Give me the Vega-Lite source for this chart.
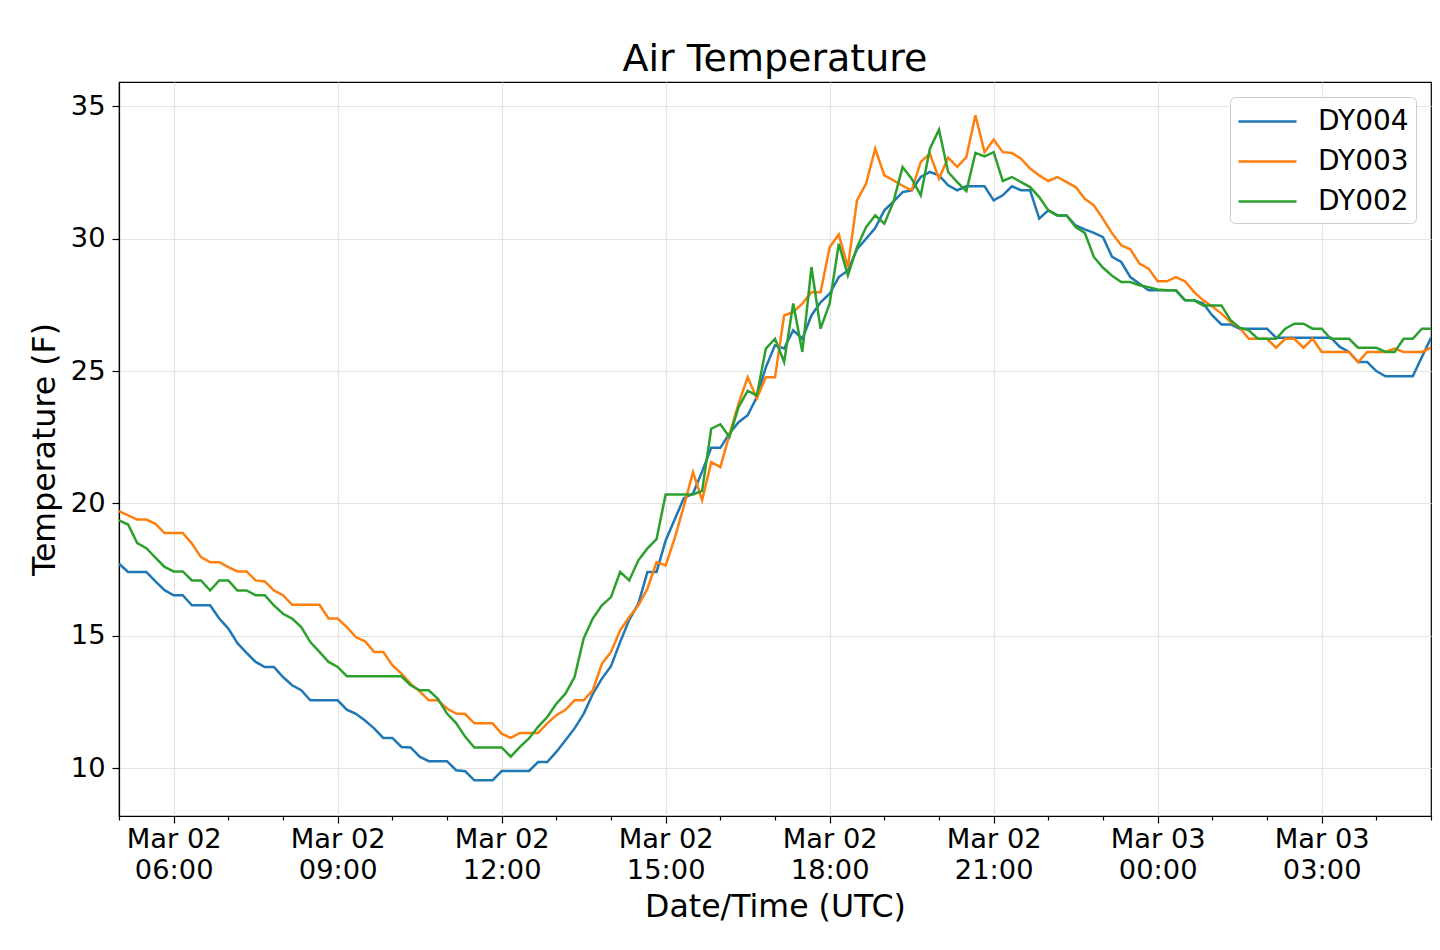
{
  "$schema": "https://vega.github.io/schema/vega-lite/v6.json",
  "width": 1312,
  "height": 734,
  "autosize": "none",
  "padding": {"left": 119, "top": 82, "right": 9, "bottom": 134},
  "background": "white",
  "title": {
    "text": "Air Temperature",
    "fontSize": 38,
    "font": "DejaVu Sans",
    "fontWeight": "normal",
    "color": "black",
    "anchor": "middle",
    "offset": 3
  },
  "data": {
    "values": [
      {"t": "2019-03-02T05:00", "DY004": 17.72, "DY003": 19.71, "DY002": 19.36},
      {"t": "2019-03-02T05:10", "DY004": 17.41, "DY003": 19.55, "DY002": 19.2},
      {"t": "2019-03-02T05:20", "DY004": 17.41, "DY003": 19.39, "DY002": 18.5},
      {"t": "2019-03-02T05:30", "DY004": 17.41, "DY003": 19.39, "DY002": 18.31},
      {"t": "2019-03-02T05:40", "DY004": 17.05, "DY003": 19.23, "DY002": 17.95},
      {"t": "2019-03-02T05:50", "DY004": 16.72, "DY003": 18.88, "DY002": 17.6},
      {"t": "2019-03-02T06:00", "DY004": 16.53, "DY003": 18.88, "DY002": 17.43},
      {"t": "2019-03-02T06:10", "DY004": 16.53, "DY003": 18.88, "DY002": 17.43},
      {"t": "2019-03-02T06:20", "DY004": 16.15, "DY003": 18.48, "DY002": 17.09},
      {"t": "2019-03-02T06:30", "DY004": 16.15, "DY003": 17.97, "DY002": 17.09},
      {"t": "2019-03-02T06:40", "DY004": 16.15, "DY003": 17.78, "DY002": 16.71},
      {"t": "2019-03-02T06:50", "DY004": 15.65, "DY003": 17.78, "DY002": 17.09},
      {"t": "2019-03-02T07:00", "DY004": 15.27, "DY003": 17.59, "DY002": 17.09},
      {"t": "2019-03-02T07:10", "DY004": 14.72, "DY003": 17.43, "DY002": 16.71},
      {"t": "2019-03-02T07:20", "DY004": 14.35, "DY003": 17.43, "DY002": 16.71},
      {"t": "2019-03-02T07:30", "DY004": 14.01, "DY003": 17.09, "DY002": 16.53},
      {"t": "2019-03-02T07:40", "DY004": 13.82, "DY003": 17.05, "DY002": 16.53},
      {"t": "2019-03-02T07:50", "DY004": 13.82, "DY003": 16.71, "DY002": 16.15},
      {"t": "2019-03-02T08:00", "DY004": 13.44, "DY003": 16.53, "DY002": 15.83},
      {"t": "2019-03-02T08:10", "DY004": 13.13, "DY003": 16.17, "DY002": 15.65},
      {"t": "2019-03-02T08:20", "DY004": 12.94, "DY003": 16.17, "DY002": 15.33},
      {"t": "2019-03-02T08:30", "DY004": 12.56, "DY003": 16.17, "DY002": 14.76},
      {"t": "2019-03-02T08:40", "DY004": 12.56, "DY003": 16.17, "DY002": 14.39},
      {"t": "2019-03-02T08:50", "DY004": 12.56, "DY003": 15.65, "DY002": 14.01},
      {"t": "2019-03-02T09:00", "DY004": 12.56, "DY003": 15.65, "DY002": 13.82},
      {"t": "2019-03-02T09:10", "DY004": 12.21, "DY003": 15.33, "DY002": 13.47},
      {"t": "2019-03-02T09:20", "DY004": 12.05, "DY003": 14.95, "DY002": 13.47},
      {"t": "2019-03-02T09:30", "DY004": 11.8, "DY003": 14.79, "DY002": 13.47},
      {"t": "2019-03-02T09:40", "DY004": 11.5, "DY003": 14.39, "DY002": 13.47},
      {"t": "2019-03-02T09:50", "DY004": 11.14, "DY003": 14.39, "DY002": 13.47},
      {"t": "2019-03-02T10:00", "DY004": 11.14, "DY003": 13.89, "DY002": 13.47},
      {"t": "2019-03-02T10:10", "DY004": 10.8, "DY003": 13.57, "DY002": 13.47},
      {"t": "2019-03-02T10:20", "DY004": 10.78, "DY003": 13.19, "DY002": 13.13},
      {"t": "2019-03-02T10:30", "DY004": 10.43, "DY003": 12.9, "DY002": 12.94},
      {"t": "2019-03-02T10:40", "DY004": 10.26, "DY003": 12.56, "DY002": 12.94},
      {"t": "2019-03-02T10:50", "DY004": 10.26, "DY003": 12.56, "DY002": 12.62},
      {"t": "2019-03-02T11:00", "DY004": 10.26, "DY003": 12.25, "DY002": 12.06},
      {"t": "2019-03-02T11:10", "DY004": 9.92, "DY003": 12.06, "DY002": 11.7},
      {"t": "2019-03-02T11:20", "DY004": 9.88, "DY003": 12.04, "DY002": 11.18},
      {"t": "2019-03-02T11:30", "DY004": 9.54, "DY003": 11.69, "DY002": 10.78},
      {"t": "2019-03-02T11:40", "DY004": 9.54, "DY003": 11.69, "DY002": 10.78},
      {"t": "2019-03-02T11:50", "DY004": 9.54, "DY003": 11.69, "DY002": 10.78},
      {"t": "2019-03-02T12:00", "DY004": 9.89, "DY003": 11.3, "DY002": 10.78},
      {"t": "2019-03-02T12:10", "DY004": 9.89, "DY003": 11.14, "DY002": 10.43},
      {"t": "2019-03-02T12:20", "DY004": 9.89, "DY003": 11.33, "DY002": 10.8},
      {"t": "2019-03-02T12:30", "DY004": 9.89, "DY003": 11.33, "DY002": 11.12},
      {"t": "2019-03-02T12:40", "DY004": 10.23, "DY003": 11.33, "DY002": 11.56},
      {"t": "2019-03-02T12:50", "DY004": 10.23, "DY003": 11.69, "DY002": 11.93},
      {"t": "2019-03-02T13:00", "DY004": 10.61, "DY003": 12.0, "DY002": 12.43},
      {"t": "2019-03-02T13:10", "DY004": 11.05, "DY003": 12.2, "DY002": 12.81},
      {"t": "2019-03-02T13:20", "DY004": 11.5, "DY003": 12.56, "DY002": 13.44},
      {"t": "2019-03-02T13:30", "DY004": 12.05, "DY003": 12.56, "DY002": 14.9},
      {"t": "2019-03-02T13:40", "DY004": 12.8, "DY003": 12.94, "DY002": 15.65},
      {"t": "2019-03-02T13:50", "DY004": 13.38, "DY003": 13.94, "DY002": 16.15},
      {"t": "2019-03-02T14:00", "DY004": 13.85, "DY003": 14.39, "DY002": 16.46},
      {"t": "2019-03-02T14:10", "DY004": 14.76, "DY003": 15.2, "DY002": 17.41},
      {"t": "2019-03-02T14:20", "DY004": 15.6, "DY003": 15.71, "DY002": 17.09},
      {"t": "2019-03-02T14:30", "DY004": 16.21, "DY003": 16.15, "DY002": 17.85},
      {"t": "2019-03-02T14:40", "DY004": 17.41, "DY003": 16.78, "DY002": 18.3},
      {"t": "2019-03-02T14:50", "DY004": 17.41, "DY003": 17.78, "DY002": 18.65},
      {"t": "2019-03-02T15:00", "DY004": 18.6, "DY003": 17.66, "DY002": 20.34},
      {"t": "2019-03-02T15:10", "DY004": 19.4, "DY003": 18.7, "DY002": 20.34},
      {"t": "2019-03-02T15:20", "DY004": 20.2, "DY003": 19.9, "DY002": 20.34},
      {"t": "2019-03-02T15:30", "DY004": 20.37, "DY003": 21.18, "DY002": 20.34},
      {"t": "2019-03-02T15:40", "DY004": 21.2, "DY003": 20.12, "DY002": 20.47},
      {"t": "2019-03-02T15:50", "DY004": 22.1, "DY003": 21.56, "DY002": 22.82},
      {"t": "2019-03-02T16:00", "DY004": 22.1, "DY003": 21.37, "DY002": 22.99},
      {"t": "2019-03-02T16:10", "DY004": 22.64, "DY003": 22.6, "DY002": 22.51},
      {"t": "2019-03-02T16:20", "DY004": 23.07, "DY003": 23.77, "DY002": 23.64},
      {"t": "2019-03-02T16:30", "DY004": 23.33, "DY003": 24.77, "DY002": 24.25},
      {"t": "2019-03-02T16:40", "DY004": 24.02, "DY003": 23.96, "DY002": 24.08},
      {"t": "2019-03-02T16:50", "DY004": 25.15, "DY003": 24.77, "DY002": 25.85},
      {"t": "2019-03-02T17:00", "DY004": 25.97, "DY003": 24.77, "DY002": 26.22},
      {"t": "2019-03-02T17:10", "DY004": 25.85, "DY003": 27.1, "DY002": 25.34},
      {"t": "2019-03-02T17:20", "DY004": 26.54, "DY003": 27.23, "DY002": 27.55},
      {"t": "2019-03-02T17:30", "DY004": 26.22, "DY003": 27.55, "DY002": 25.72},
      {"t": "2019-03-02T17:40", "DY004": 27.1, "DY003": 27.98, "DY002": 28.93},
      {"t": "2019-03-02T17:50", "DY004": 27.6, "DY003": 27.98, "DY002": 26.6},
      {"t": "2019-03-02T18:00", "DY004": 27.92, "DY003": 29.68, "DY002": 27.55},
      {"t": "2019-03-02T18:10", "DY004": 28.55, "DY003": 30.16, "DY002": 29.81},
      {"t": "2019-03-02T18:20", "DY004": 28.8, "DY003": 28.93, "DY002": 28.61},
      {"t": "2019-03-02T18:30", "DY004": 29.6, "DY003": 31.45, "DY002": 29.68},
      {"t": "2019-03-02T18:40", "DY004": 30.0, "DY003": 32.08, "DY002": 30.44},
      {"t": "2019-03-02T18:50", "DY004": 30.4, "DY003": 33.4, "DY002": 30.88},
      {"t": "2019-03-02T19:00", "DY004": 31.07, "DY003": 32.39, "DY002": 30.57},
      {"t": "2019-03-02T19:10", "DY004": 31.4, "DY003": 32.2, "DY002": 31.39},
      {"t": "2019-03-02T19:20", "DY004": 31.76, "DY003": 32.0, "DY002": 32.71},
      {"t": "2019-03-02T19:30", "DY004": 31.83, "DY003": 31.83, "DY002": 32.27},
      {"t": "2019-03-02T19:40", "DY004": 32.33, "DY003": 32.9, "DY002": 31.64},
      {"t": "2019-03-02T19:50", "DY004": 32.52, "DY003": 33.21, "DY002": 33.4},
      {"t": "2019-03-02T20:00", "DY004": 32.39, "DY003": 32.27, "DY002": 34.12},
      {"t": "2019-03-02T20:10", "DY004": 32.02, "DY003": 33.06, "DY002": 32.52},
      {"t": "2019-03-02T20:20", "DY004": 31.83, "DY003": 32.71, "DY002": 32.14},
      {"t": "2019-03-02T20:30", "DY004": 31.98, "DY003": 33.08, "DY002": 31.8},
      {"t": "2019-03-02T20:40", "DY004": 31.98, "DY003": 34.66, "DY002": 33.24},
      {"t": "2019-03-02T20:50", "DY004": 31.98, "DY003": 33.27, "DY002": 33.11},
      {"t": "2019-03-02T21:00", "DY004": 31.45, "DY003": 33.74, "DY002": 33.27},
      {"t": "2019-03-02T21:10", "DY004": 31.64, "DY003": 33.27, "DY002": 32.18},
      {"t": "2019-03-02T21:20", "DY004": 31.98, "DY003": 33.24, "DY002": 32.33},
      {"t": "2019-03-02T21:30", "DY004": 31.83, "DY003": 33.02, "DY002": 32.14},
      {"t": "2019-03-02T21:40", "DY004": 31.83, "DY003": 32.65, "DY002": 31.95},
      {"t": "2019-03-02T21:50", "DY004": 30.76, "DY003": 32.39, "DY002": 31.57},
      {"t": "2019-03-02T22:00", "DY004": 31.07, "DY003": 32.18, "DY002": 31.07},
      {"t": "2019-03-02T22:10", "DY004": 30.88, "DY003": 32.33, "DY002": 30.88},
      {"t": "2019-03-02T22:20", "DY004": 30.88, "DY003": 32.14, "DY002": 30.88},
      {"t": "2019-03-02T22:30", "DY004": 30.5, "DY003": 31.95, "DY002": 30.44},
      {"t": "2019-03-02T22:40", "DY004": 30.35, "DY003": 31.51, "DY002": 30.22},
      {"t": "2019-03-02T22:50", "DY004": 30.22, "DY003": 31.26, "DY002": 29.31},
      {"t": "2019-03-02T23:00", "DY004": 30.06, "DY003": 30.75, "DY002": 28.9},
      {"t": "2019-03-02T23:10", "DY004": 29.31, "DY003": 30.2, "DY002": 28.6},
      {"t": "2019-03-02T23:20", "DY004": 29.12, "DY003": 29.75, "DY002": 28.36},
      {"t": "2019-03-02T23:30", "DY004": 28.55, "DY003": 29.6, "DY002": 28.36},
      {"t": "2019-03-02T23:40", "DY004": 28.3, "DY003": 29.06, "DY002": 28.24},
      {"t": "2019-03-02T23:50", "DY004": 28.05, "DY003": 28.87, "DY002": 28.17},
      {"t": "2019-03-03T00:00", "DY004": 28.05, "DY003": 28.39, "DY002": 28.08},
      {"t": "2019-03-03T00:10", "DY004": 28.05, "DY003": 28.39, "DY002": 28.05},
      {"t": "2019-03-03T00:20", "DY004": 28.05, "DY003": 28.55, "DY002": 28.05},
      {"t": "2019-03-03T00:30", "DY004": 27.67, "DY003": 28.39, "DY002": 27.67},
      {"t": "2019-03-03T00:40", "DY004": 27.67, "DY003": 27.98, "DY002": 27.67},
      {"t": "2019-03-03T00:50", "DY004": 27.55, "DY003": 27.67, "DY002": 27.48},
      {"t": "2019-03-03T01:00", "DY004": 27.1, "DY003": 27.44, "DY002": 27.48},
      {"t": "2019-03-03T01:10", "DY004": 26.76, "DY003": 27.17, "DY002": 27.48},
      {"t": "2019-03-03T01:20", "DY004": 26.76, "DY003": 26.85, "DY002": 26.92},
      {"t": "2019-03-03T01:30", "DY004": 26.6, "DY003": 26.64, "DY002": 26.64},
      {"t": "2019-03-03T01:40", "DY004": 26.6, "DY003": 26.22, "DY002": 26.54},
      {"t": "2019-03-03T01:50", "DY004": 26.6, "DY003": 26.22, "DY002": 26.22},
      {"t": "2019-03-03T02:00", "DY004": 26.6, "DY003": 26.22, "DY002": 26.22},
      {"t": "2019-03-03T02:10", "DY004": 26.26, "DY003": 25.88, "DY002": 26.22},
      {"t": "2019-03-03T02:20", "DY004": 26.26, "DY003": 26.22, "DY002": 26.6},
      {"t": "2019-03-03T02:30", "DY004": 26.26, "DY003": 26.22, "DY002": 26.79},
      {"t": "2019-03-03T02:40", "DY004": 26.26, "DY003": 25.88, "DY002": 26.79},
      {"t": "2019-03-03T02:50", "DY004": 26.26, "DY003": 26.22, "DY002": 26.6},
      {"t": "2019-03-03T03:00", "DY004": 26.26, "DY003": 25.72, "DY002": 26.6},
      {"t": "2019-03-03T03:10", "DY004": 26.26, "DY003": 25.72, "DY002": 26.22},
      {"t": "2019-03-03T03:20", "DY004": 25.91, "DY003": 25.72, "DY002": 26.22},
      {"t": "2019-03-03T03:30", "DY004": 25.72, "DY003": 25.72, "DY002": 26.22},
      {"t": "2019-03-03T03:40", "DY004": 25.34, "DY003": 25.34, "DY002": 25.88},
      {"t": "2019-03-03T03:50", "DY004": 25.34, "DY003": 25.72, "DY002": 25.88},
      {"t": "2019-03-03T04:00", "DY004": 25.0, "DY003": 25.72, "DY002": 25.88},
      {"t": "2019-03-03T04:10", "DY004": 24.8, "DY003": 25.72, "DY002": 25.72},
      {"t": "2019-03-03T04:20", "DY004": 24.8, "DY003": 25.85, "DY002": 25.72},
      {"t": "2019-03-03T04:30", "DY004": 24.8, "DY003": 25.72, "DY002": 26.22},
      {"t": "2019-03-03T04:40", "DY004": 24.8, "DY003": 25.72, "DY002": 26.22},
      {"t": "2019-03-03T04:50", "DY004": 25.53, "DY003": 25.72, "DY002": 26.6},
      {"t": "2019-03-03T05:00", "DY004": 26.26, "DY003": 25.88, "DY002": 26.6}
    ]
  },
  "transform": [
    {"fold": ["DY004", "DY003", "DY002"], "as": ["station", "temp"]}
  ],
  "mark": {"type": "line", "strokeWidth": 2.5, "clip": true},
  "encoding": {
    "x": {
      "field": "t",
      "type": "temporal",
      "title": "Date/Time (UTC)",
      "scale": {
        "domain": [
          {"year": 2019, "month": 3, "date": 2, "hours": 5},
          {"year": 2019, "month": 3, "date": 3, "hours": 5}
        ],
        "nice": false
      },
      "axis": {
        "tickCount": 24,
        "labelExpr": "hours(datum.value) % 3 == 0 ? [timeFormat(datum.value, '%b %d'), timeFormat(datum.value, '%H:%M')] : ''",
        "labelOverlap": false,
        "labelFlush": false,
        "labelPadding": 2,
        "labelLineHeight": 31,
        "tickSize": 7,
        "tickDash": {"condition": {"test": "hours(datum.value) % 3 == 0", "value": [7, 0]}, "value": [4, 20]},
        "gridOpacity": {"condition": {"test": "hours(datum.value) % 3 == 0", "value": 1}, "value": 0},
        "titlePadding": 8
      }
    },
    "y": {
      "field": "temp",
      "type": "quantitative",
      "title": "Temperature (F)",
      "scale": {"domain": [8.19, 35.92], "nice": false, "zero": false},
      "axis": {
        "values": [10, 15, 20, 25, 30, 35],
        "tickSize": 7,
        "labelPadding": 7,
        "titlePadding": 9
      }
    },
    "color": {
      "field": "station",
      "type": "nominal",
      "sort": ["DY004", "DY003", "DY002"],
      "scale": {
        "domain": ["DY004", "DY003", "DY002"],
        "range": ["#1f77b4", "#ff7f0e", "#2ca02c"]
      },
      "legend": {
        "title": null,
        "orient": "top-right",
        "offset": 15,
        "symbolType": "M-1,0H2.625",
        "symbolSize": 1024,
        "symbolStrokeWidth": 2.5,
        "labelFontSize": 28,
        "labelFont": "DejaVu Sans",
        "labelColor": "black",
        "labelOffset": 46,
        "rowPadding": 8,
        "padding": 7,
        "fillColor": "white",
        "strokeColor": "#cccccc",
        "cornerRadius": 5
      }
    }
  },
  "config": {
    "font": "DejaVu Sans",
    "view": {"stroke": "black", "strokeWidth": 1.2},
    "axis": {
      "labelFont": "DejaVu Sans",
      "labelFontSize": 27.3,
      "labelColor": "black",
      "titleFont": "DejaVu Sans",
      "titleFontSize": 31.6,
      "titleFontWeight": "normal",
      "titleColor": "black",
      "domainColor": "black",
      "domainWidth": 1.2,
      "tickColor": "black",
      "tickWidth": 1.2,
      "gridColor": "#e3e3e3",
      "gridWidth": 1.2
    }
  }
}
